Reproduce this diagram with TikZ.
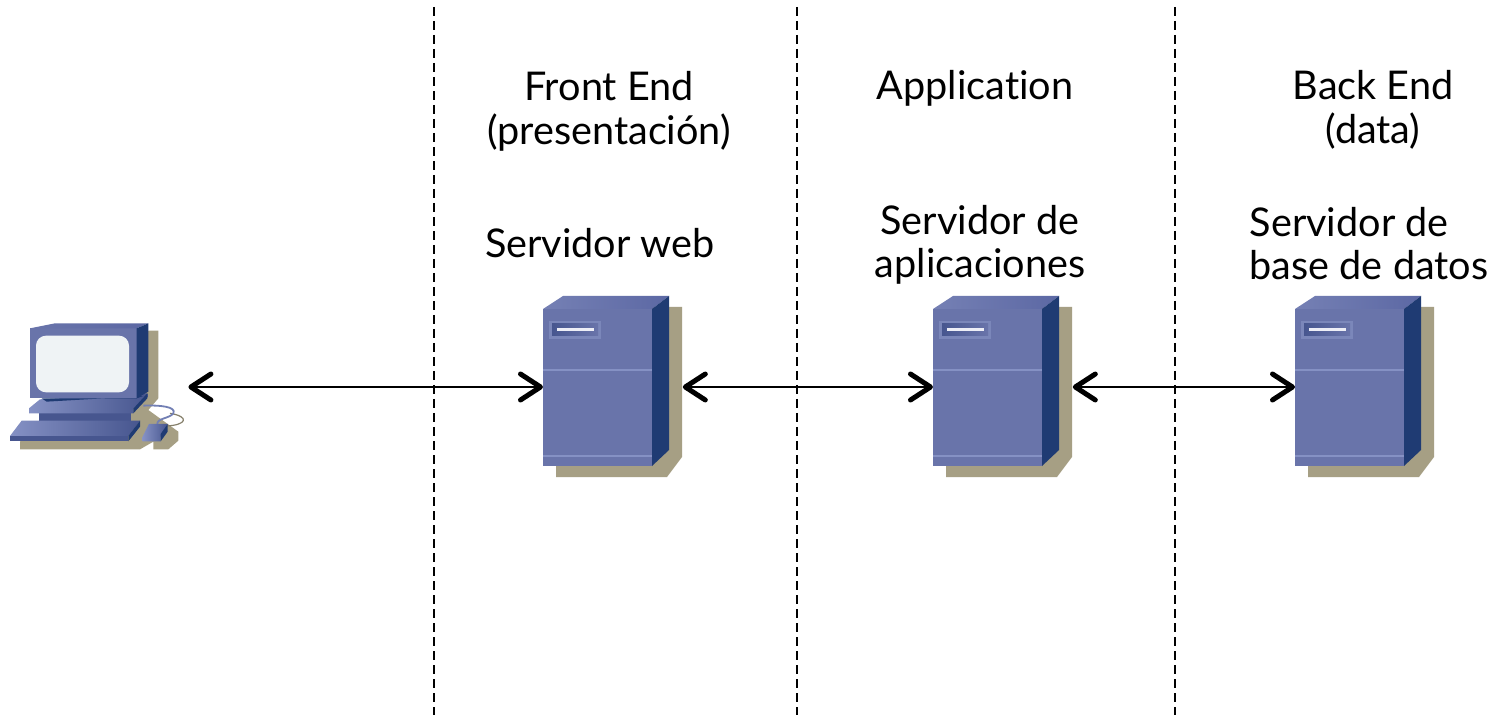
\documentclass[tikz,border=0pt]{standalone}
\usepackage{fontspec}
\setmainfont[Ligatures=NoCommon]{Lato}
\usetikzlibrary{arrows.meta}
\definecolor{sfront}{HTML}{6974AA}
\definecolor{sside}{HTML}{1F3B73}
\definecolor{stop}{HTML}{5C68A4}
\definecolor{stopl}{HTML}{7580B4}
\definecolor{sshadow}{HTML}{A69F84}
\definecolor{slight}{HTML}{8591C4}
\definecolor{spanel}{HTML}{7B87BA}
\definecolor{sdark}{HTML}{47568F}
\definecolor{sscreen}{HTML}{EFF3F5}
\tikzset{
  x=0.5pt,y=-0.5pt,
  label text/.style={font=\fontsize{19.8pt}{21.5pt}\selectfont,align=center,inner sep=0pt,text=black},
  title text/.style={font=\fontsize{19.8pt}{22pt}\selectfont,align=center,inner sep=0pt,text=black},
  hitbox/.style={inner sep=0pt,minimum width=69.5pt,minimum height=91pt,anchor=west},
  pcbox/.style={inner sep=0pt,minimum width=3pt,minimum height=3pt},
  tier/.style={black,line width=0.8pt,dash pattern=on 4.5pt off 2.5pt},
  link/.style={black,line width=0.75pt,{Straight Barb[length=10pt,width=13pt,line width=2.5pt,round]}-{Straight Barb[length=10pt,width=13pt,line width=2.5pt,round]}},
  pics/serverbox/.style={code={
    \fill[sshadow] (13,11) -- (139,11) -- (139,161) -- (124,181) -- (13,181) -- cycle;
    \fill[sfront] (0,13) rectangle (109,170);
    \shade[left color=stopl,right color=stop] (0,13) -- (20,0) -- (126,0) -- (109,13) -- cycle;
    \fill[sside] (109,13) -- (126,0) -- (126,154) -- (109,170) -- cycle;
    \fill[spanel] (6,25) rectangle (58,43);
    \shade[left color=sdark,right color=sfront] (9,28) rectangle (55,40);
    \fill[white!85!slight] (14,32.5) rectangle (51,35);
    \draw[slight,line width=1pt] (0,74.5) -- (109,74.5);
    \draw[slight,line width=1pt] (0,160) -- (109,160);
  }}
}
\begin{document}
\begin{tikzpicture}
\useasboundingbox (0,0) rectangle (1497,715);
\fill[white] (0,0) rectangle (1497,715);
% tier separators
\coordinate (d1t) at (434,7); \coordinate (d1b) at (434,715);
\coordinate (d2t) at (797,7); \coordinate (d2b) at (797,715);
\coordinate (d3t) at (1175,7); \coordinate (d3b) at (1175,715);
\draw[tier] (d1t) -- (d1b);
\draw[tier] (d2t) -- (d2b);
\draw[tier] (d3t) -- (d3b);
% computer
\begin{scope}[shift={(0,310)},scale=1/3]
\fill[sshadow] (445,62) -- (475,62) -- (475,265) -- (445,300) -- (535,365) -- (535,392) -- (505,418) -- (460,418) -- (460,395) -- (420,418) -- (60,418) -- (60,395) -- (120,330) -- (400,250) -- cycle;
\draw[sshadow!80!black,line width=0.6pt] (500,348) .. controls (560,345) and (570,320) .. (510,310);
\draw[slight!70!sdark,line width=0.9pt] (430,287) .. controls (480,285) and (530,290) .. (520,310) .. controls (510,325) and (470,325) .. (472,342);
\fill[sdark] (118,290) rectangle (392,335);
\shade[left color=slight,right color=sdark] (87,310) -- (87,295) -- (120,268) -- (442,250) -- (442,262) -- (400,296) -- (400,310) -- cycle;
\fill[sside] (400,296) -- (442,250) -- (442,265) -- (400,310) -- cycle;
\shade[left color=slight,right color=sdark] (30,378) -- (65,332) -- (420,332) -- (385,378) -- cycle;
\fill[sdark] (30,378) rectangle (385,394);
\fill[sside] (385,378) -- (420,332) -- (420,350) -- (385,394) -- cycle;
\shade[left color=slight,right color=sdark] (428,380) -- (447,342) -- (503,342) -- (482,380) -- (482,394) -- (428,394) -- cycle;
\fill[sside] (482,394) -- (482,372) -- (503,342) -- (503,365) -- cycle;
\fill[sside] (125,265) -- (410,265) -- (430,258) -- (140,275) -- cycle;
\fill[sfront] (90,55) rectangle (410,265);
\shade[left color=sfront,right color=stop] (90,55) -- (165,40) -- (445,40) -- (410,55) -- cycle;
\fill[sside] (410,55) -- (445,40) -- (445,245) -- (410,265) -- cycle;
\fill[sscreen,rounded corners=5pt] (108,77) rectangle (387,247);
\end{scope}
\node[pcbox] (pc) at (185,387) {};
% servers
\node[hitbox] (web) at (543,387) {};
\node[hitbox] (app) at (933,387) {};
\node[hitbox] (db)  at (1295,387) {};
\pic at (543,296) {serverbox};
\pic at (933,296) {serverbox};
\pic at (1295,296) {serverbox};
% links
\draw[link] (pc.east) -- (web.west);
\draw[link] (web.east) -- (app.west);
\draw[link] (app.east) -- (db.west);
% labels
\node[title text] (t1) at (609,111) {Front End\\(presentación)};
\node[title text] (t2) at (975,88) {Application};
\node[title text] (t3) at (1373,110) {Back End\\(data)};
\node[label text] (s1) at (600,243) {Servidor web};
\node[label text] (s2) at (980,245) {Servidor de\\aplicaciones};
\node[label text,align=left] (s3) at (1369,244) {Servidor de\\base de datos};
\end{tikzpicture}
\end{document}
